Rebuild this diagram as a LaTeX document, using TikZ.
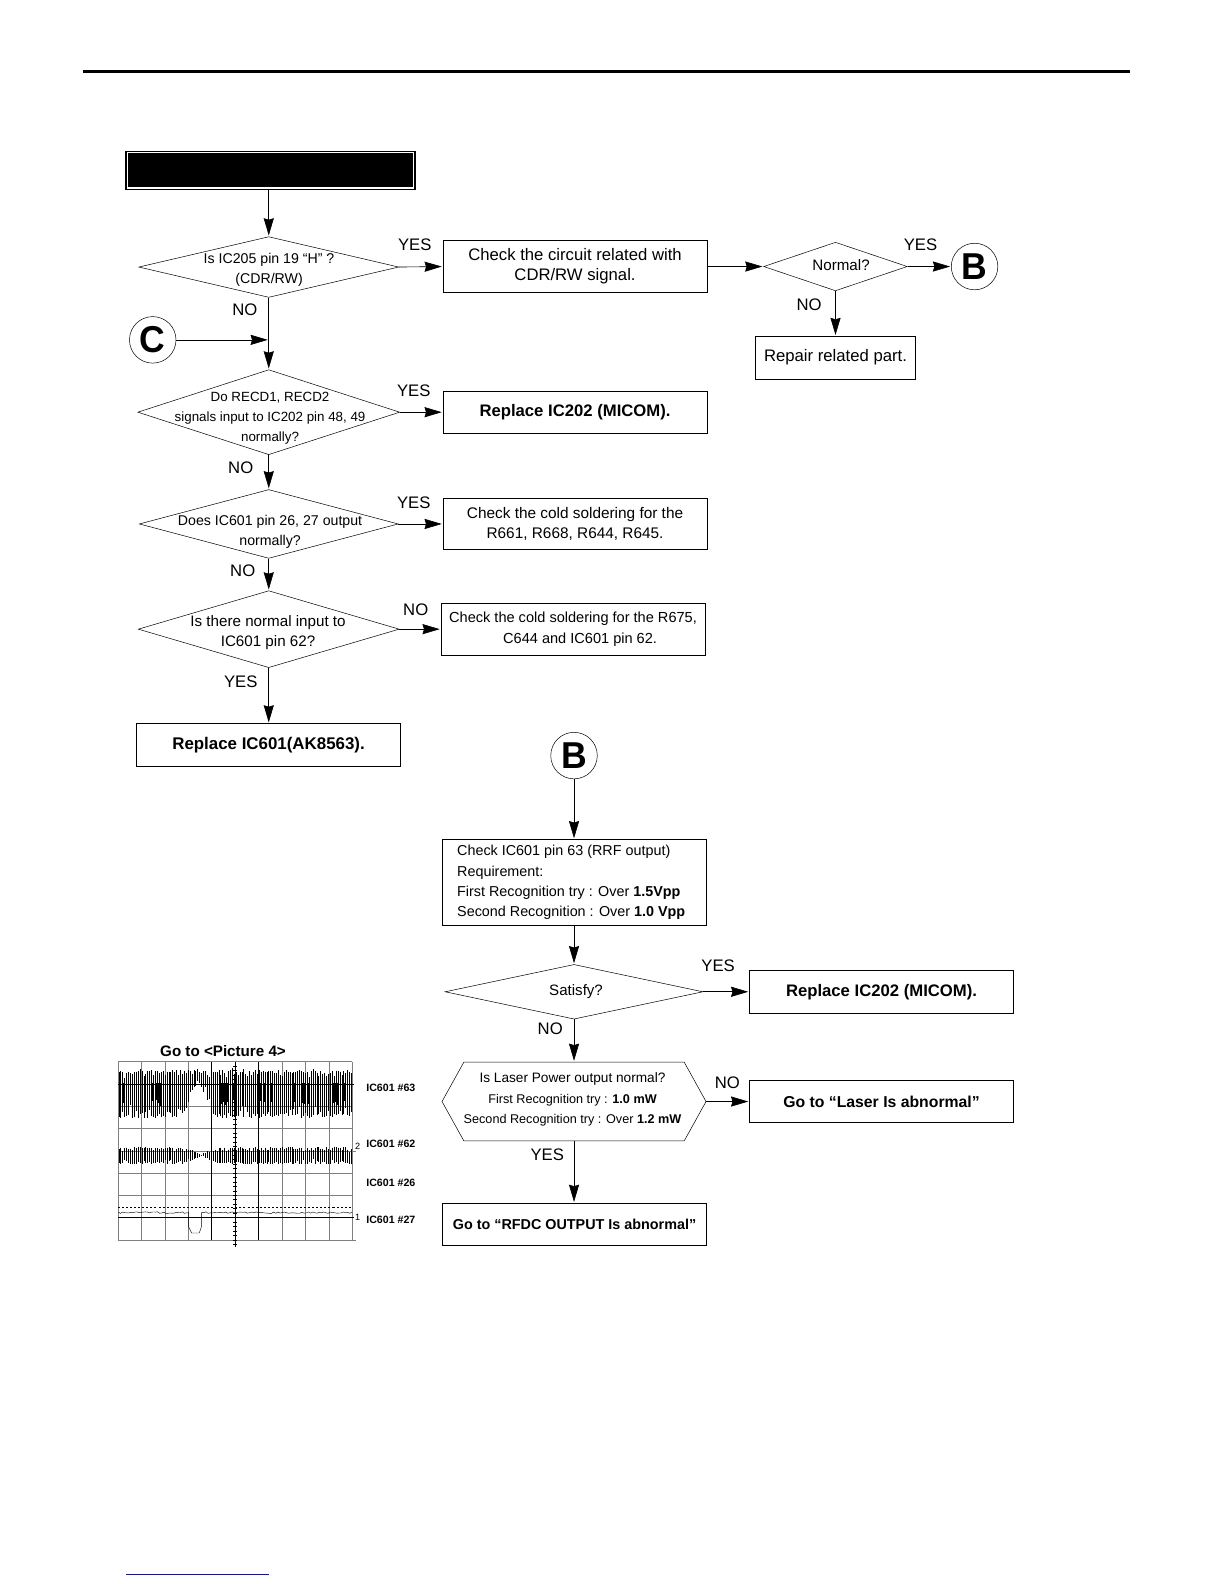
\documentclass[tikz,border=0pt]{standalone}
\usepackage{fontspec}
\usepackage{graphicx}
\setmainfont{Liberation Sans}
\usetikzlibrary{arrows.meta,shapes.geometric,shapes.symbols}
\newcommand{\fs}[1]{\fontsize{#1}{20}\selectfont}
\newcommand{\bigletter}[1]{\scalebox{0.95}[1]{\bfseries #1}}
\tikzset{
    box/.style={draw,line width=0.6pt,minimum width=261pt,minimum height=#1pt,align=center,inner sep=0pt},
    dia/.style 2 args={draw,diamond,line width=0.5pt,minimum width=#1pt,minimum height=#2pt,inner sep=0pt},
    msg/.style={align=center,inner sep=0pt,font={\fs{#1}}},
    sign/.style={draw,circle,line width=0.5pt,minimum size=46pt,inner sep=0pt,font={\fontsize{37}{37}\selectfont}},
    flow/.style={line width=0.6pt,-{Stealth[length=17pt,width=10pt,inset=1.5pt]},shorten >=1pt},
    tag/.style={inner sep=0pt,font={\fs{16.5}}},
    chan/.style={anchor=west,inner sep=0pt,font={\fontsize{10.5}{12}\selectfont\bfseries}},
    wave/.style={line width=0.55pt}
}
\begin{document}
\begin{tikzpicture}[x=1pt,y=-1pt]
        \useasboundingbox (0,0) rectangle (1210,1566);
        %% Page rules
        \draw[line width=3.2pt] (82,71) -- (1117,71);
        \draw[line width=1pt,color={rgb,255:red,20;green,20;blue,130}] (125,1557) -- (266,1557);
        %% Upper chart
        \node[draw,fill=black,double=white,double distance=1.5pt,line width=1.4pt,minimum width=283pt,minimum height=35pt,inner sep=0pt] (title) at (267.5,168.5) {};
        \node[dia={257}{60}] (q1) at (265.7,264) {};
        \node[msg=14] (q1txt) at (266,267) {Is IC205 pin 19 “H” ?\\(CDR/RW)};
        \node[box=51,font={\fs{16.5}}] (chk1) at (568.5,263.5) {Check the circuit related with\\CDR/RW signal.};
        \node[dia={142}{48}] (q5) at (826,263.5) {};
        \node[msg=15] (q5txt) at (831.5,262) {Normal?};
        \node[sign] (bb1) at (963.5,263.5) {\bigletter{B}};
        \node[box=42,minimum width=158pt,font={\fs{16.5}}] (fix) at (826,353.5) {Repair related part.};
        \node[sign] (cc) at (151,336) {\bigletter{C}};
        \node[dia={259}{84}] (q2) at (265.7,407.5) {};
        \node[msg=13.2] (q2txt) at (267,413.5) {Do RECD1, RECD2\\signals input to IC202 pin 48, 49\\normally?};
        \node[box=42,font={\fs{16.5}}] (rep1) at (568.5,407.5) {\textbf{Replace IC202 (MICOM).}};
        \node[dia={256}{68}] (q3) at (265.7,518) {};
        \node[msg=14] (q3txt) at (267,526) {Does IC601 pin 26, 27 output\\normally?};
        \node[box=51,font={\fs{15.2}}] (chk2) at (568.5,518) {Check the cold soldering for the\\R661, R668, R644, R645.};
        \node[dia={258}{76}] (q4) at (265.7,622) {};
        \node[msg=15] (q4txt) at (265,625) {Is there normal input to\\IC601 pin 62?};
        \node[box=52,font={\fs{14.4}}] (chk3) at (566.5,622) {Check the cold soldering for the R675,\\\hspace*{14pt}C644 and IC601 pin 62.};
        \node[box=42,font={\fs{16.7}}] (rep2) at (265.5,736.5) {\textbf{Replace IC601(AK8563).}};
        \coordinate (join) at (q1.south |- cc.east);
        %% Labels of upper chart
        \node[tag] (y1) at (410,242) {YES};
        \node[tag] (n1) at (242,306) {NO};
        \node[tag] (y2) at (910,242) {YES};
        \node[tag] (n2) at (800,301) {NO};
        \node[tag] (y3) at (409,386.5) {YES};
        \node[tag] (n3) at (238,462) {NO};
        \node[tag] (y4) at (409,497) {YES};
        \node[tag] (n4) at (240,564) {NO};
        \node[tag] (n5) at (411,603) {NO};
        \node[tag] (y5) at (238,674) {YES};
        %% Lower chart
        \node[sign] (bb2) at (567.5,747) {\bigletter{B}};
        \node[box=85,align=left,font={\fs{14.2}}] (chk4) at (567.5,872.5) {\makebox[231pt][l]{Check IC601 pin 63 (RRF output)}\\Requirement:\\First Recognition try : Over \textbf{1.5Vpp}\\Second Recognition : Over \textbf{1.0 Vpp}};
        \node[dia={255}{54}] (q6) at (567.5,980.5) {};
        \node[msg=14.9] (q6txt) at (569.5,980) {Satisfy?};
        \node[box=42,font={\fs{16.5}}] (rep3) at (871.5,980.5) {\textbf{Replace IC202 (MICOM).}};
        \node[draw,signal,signal to=east and west,signal pointer angle=122,line width=0.5pt,minimum width=261pt,minimum height=78pt,inner sep=0pt] (q7) at (567.5,1089) {};
        \node[msg=13.5] (q7txt) at (566,1087) {Is Laser Power output normal?\\{\fs{12.5}First Recognition try : \textbf{1.0 mW}}\\{\fs{12.5}Second Recognition try : Over \textbf{1.2 mW}}};
        \node[box=42,font={\fs{15.6}}] (goa) at (871.5,1089) {\textbf{Go to “Laser Is abnormal”}};
        \node[box=42,font={\fs{14.2}}] (gob) at (568,1210.5) {\textbf{Go to “RFDC OUTPUT Is abnormal”}};
        %% Labels of lower chart
        \node[tag] (y6) at (710,954.5) {YES};
        \node[tag] (n6) at (544,1017) {NO};
        \node[tag] (n7) at (719,1070) {NO};
        \node[tag] (y7) at (541,1142) {YES};
        %% Arrows
        \draw[flow] (title.south -| q1.north) -- (q1.north);
        \draw[flow] (q1.east) -- (chk1.west);
        \draw[flow] (chk1.east) -- (q5.west);
        \draw[flow] (q5.east) -- (bb1.west);
        \draw[flow] (q5.south) -- (fix.north);
        \draw[flow] (q1.south) -- (q2.north);
        \draw[flow] (cc.east) -- (join);
        \draw[flow] (q2.east) -- (rep1.west);
        \draw[flow] (q2.south) -- (q3.north);
        \draw[flow] (q3.east) -- (chk2.west);
        \draw[flow] (q3.south) -- (q4.north);
        \draw[flow] (q4.east) -- (chk3.west);
        \draw[flow] (q4.south) -- (q4.south |- rep2.north);
        \draw[flow] (bb2.south) -- (chk4.north);
        \draw[flow] (chk4.south) -- (q6.north);
        \draw[flow] (q6.east) -- (rep3.west);
        \draw[flow] (q6.south) -- (q7.north);
        \draw[flow] (q7.east) -- (goa.west);
        \draw[flow] (q7.south) -- (q7.south |- gob.north);
        %% Scope picture
        \node[inner sep=0pt,font={\fs{15}\bfseries}] (scopehead) at (220.5,1039) {Go to <Picture 4>};
        \foreach \i in {0,...,10}
            \draw[line width=0.5pt,gray] ({116.7+23.16*\i},1049.6) -- ({116.7+23.16*\i},1225.9);
        \foreach \i in {0,...,8}
            \draw[line width=0.5pt,gray] (116.7,{1049.6+22.04*\i}) -- (348.3,{1049.6+22.04*\i});
        \foreach \i in {4,6}
            \draw[line width=0.6pt] ({116.7+23.16*\i},1049.6) -- ({116.7+23.16*\i},1225.9);
        \draw[line width=0.6pt] (116.7,1071.6) -- (350,1071.6);
        \draw[line width=0.6pt] (116.7,1203.9) -- (350,1203.9);
        \draw[line width=0.6pt] (232.5,1049.6) -- (232.5,1232.5);
        \draw[line width=0.5pt,gray] (340,1137.8) -- (352,1137.8);
        \draw[line width=0.5pt,gray] (340,1225.9) -- (352,1225.9);
        \foreach \yy in {1054,1058.4,...,1230}
            \draw[line width=0.4pt] (230.5,\yy) -- (234.5,\yy);
        \draw[line width=0.5pt,dash pattern=on 2pt off 2pt] (116.7,1194) -- (348.3,1194);
        %% Traces
        \pgfmathsetseed{7}
        \foreach \xx in {117.5,119.4,...,348} {
            \pgfmathsetmacro\env{max(0,1-abs(\xx-196)/16)}
            \pgfmathsetmacro\hia{1056+4*rnd+8*rnd*rnd}
            \pgfmathsetmacro\loa{1105-36*\env-16*rnd*rnd}
            \draw[wave] (\xx,\hia) -- (\xx,\loa);
            \pgfmathparse{(sin(10*\xx)>0.35 && rnd>0.3 && \env<0.01) ? 1 : 0}
            \ifdim\pgfmathresult pt>0.5pt
                \draw[line width=1.3pt] ({\xx+0.9},1071) -- ({\xx+0.9},{1093-6*rnd});
            \fi
            \pgfmathsetmacro\envb{max(0,1-abs(\xx-199)/20)}
            \pgfmathsetmacro\hib{1134+5*rnd*rnd+6*\envb}
            \pgfmathsetmacro\lob{1151-5*rnd*rnd-7*\envb}
            \draw[wave] (\xx,\hib) -- (\xx,\lob);
        }
        \draw[line width=0.4pt] plot[domain=117:186.5,samples=35] (\x,{1198+1.6*rnd});
        \draw[line width=0.4pt] (186.5,1198) -- (186.5,1213) -- (189.5,1219) -- (197,1219) -- (199.4,1212) -- (199.4,1198.5);
        \draw[line width=0.4pt] plot[domain=199.4:348,samples=70] (\x,{1198+1.6*rnd});
        %% Channel labels
        \node[chan] (ch1) at (362,1075) {IC601 \#63};
        \node[chan] (ch2) at (362,1131) {IC601 \#62};
        \node[chan] (ch3) at (362,1169) {IC601 \#26};
        \node[chan] (ch4) at (362,1206) {IC601 \#27};
        \node[inner sep=0pt,font={\fontsize{9}{10}\selectfont}] (m2) at (353.5,1133) {2};
        \node[inner sep=0pt,font={\fontsize{9}{10}\selectfont}] (m1) at (353.5,1204) {1};
    \end{tikzpicture}
\end{document}
